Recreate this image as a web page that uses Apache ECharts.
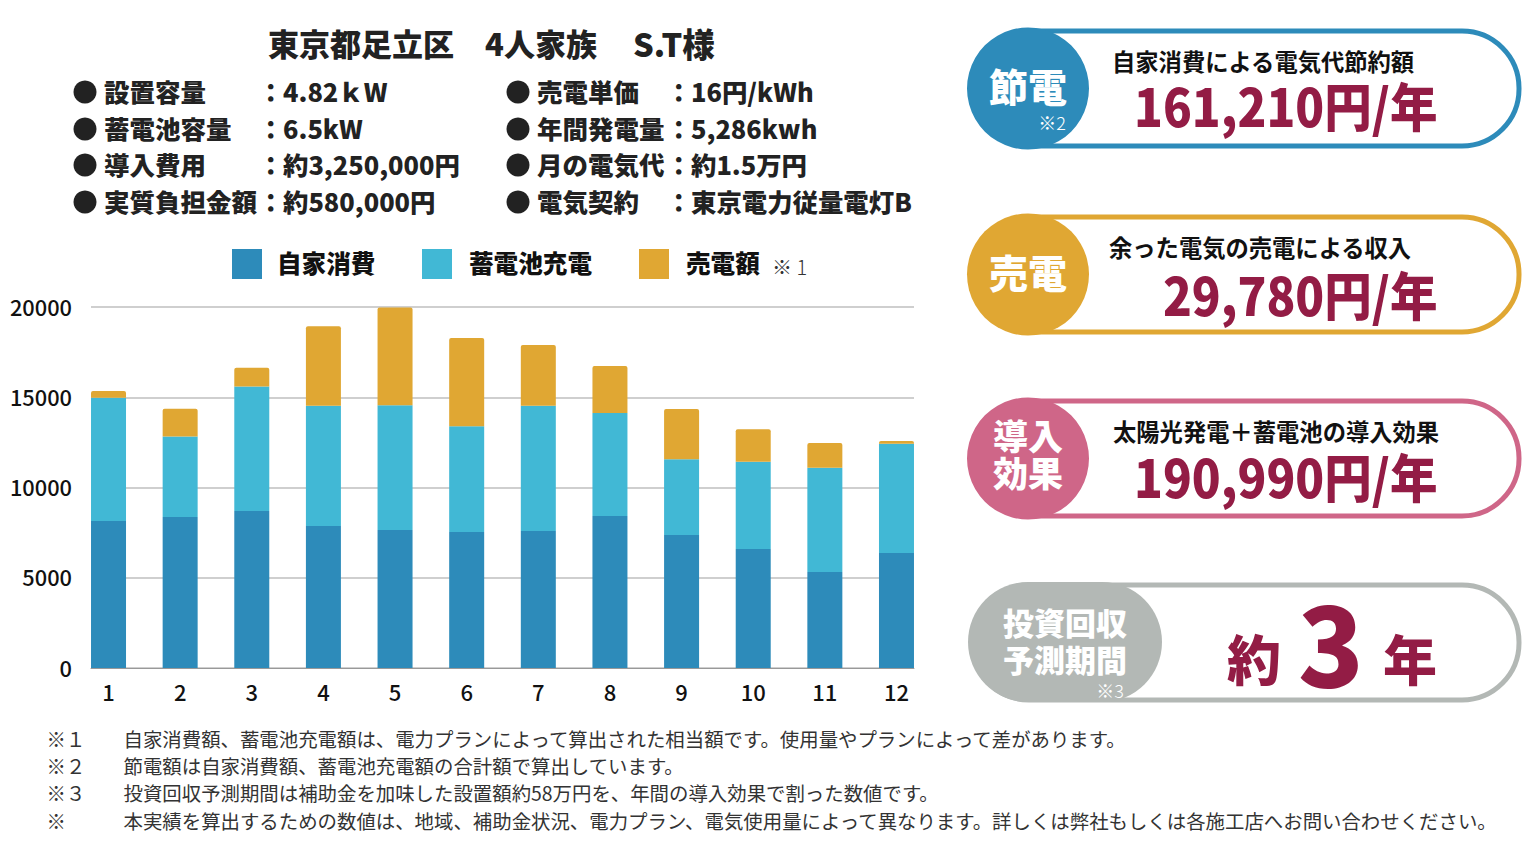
<!DOCTYPE html>
<html lang="ja"><head><meta charset="utf-8">
<style>html,body{margin:0;padding:0;background:#fff}#c{width:1530px;height:861px}</style>
<script src="https://cdn.jsdelivr.net/npm/echarts@6/dist/echarts.min.js"></script>
</head><body><div id="c"></div>
<script>
const months = ['1','2','3','4','5','6','7','8','9','10','11','12'];
const selfUse = [8140,8370,8700,7870,7650,7530,7590,8420,7370,6590,5320,6370];
const battery = [6830,4450,6890,6660,6910,5860,6940,5710,4190,4840,5780,6060];
const sold = [370,1540,1040,4400,5410,4890,3360,2600,2790,1800,1370,150];
const seriesNames = ['自家消費','蓄電池充電','売電額'];
const titleParts = ['東京都足立区','4人家族','S.T様'];
const infoLeft = [['設置容量','4.82ｋW'],['蓄電池容量','6.5kW'],['導入費用','約3,250,000円'],['実質負担金額','約580,000円']];
const infoRight = [['売電単価','16円/kWh'],['年間発電量','5,286kwh'],['月の電気代','約1.5万円'],['電気契約','東京電力従量電灯B']];
const panelHeads = [['節電'],['売電'],['導入','効果']];
const panelNotes = ['※2','',''];
const panelSubs = ['自家消費による電気代節約額','余った電気の売電による収入','太陽光発電＋蓄電池の導入効果'];
const panelVals = ['161,210円/年','29,780円/年','190,990円/年'];
const notes = [
 ['※１','自家消費額、蓄電池充電額は、電力プランによって算出された相当額です。使用量やプランによって差があります。'],
 ['※２','節電額は自家消費額、蓄電池充電額の合計額で算出しています。'],
 ['※３','投資回収予測期間は補助金を加味した設置額約58万円を、年間の導入効果で割った数値です。'],
 ['※','本実績を算出するための数値は、地域、補助金状況、電力プラン、電気使用量によって異なります。詳しくは弊社もしくは各施工店へお問い合わせください。']
];

const seriesColors = ['#2d8bba','#41b8d5','#e0a733'];
const panelColors = ['#2d8bba','#e0a733','#cf6688'];
const panelTops = [29,215,399];
const panelSubX = [1112,1109,1113];
const panelValY = [78,80.5,79];
const titleX = [268,485,633];
const titleSize = [31,31,32.5];
const infoY = [92,129,165,202];
const noteY = [741,768,795,823];
const legendX = [232,422,639];
const legendPad = [10,12,12];
const F = '"Noto Sans CJK JP","Noto Sans",sans-serif';
const WINE = '#931c45';
const g = [];
const T = (text,x,y,size,o={}) => g.push({type:'text',z:o.z||10,x,y:y-2.5,scaleY:o.sy||1,style:{text,fontFamily:F,fontSize:size,fontWeight:o.w||700,
  fill:o.fill||'#111',textAlign:o.a||'left',textVerticalAlign:'middle'}});

titleParts.forEach((p,i)=>T(p,titleX[i],45,titleSize[i],{w:900,fill:'#222'}));
[[infoLeft,73,104,262,283],[infoRight,506,537,670,691]].forEach(([rows,bx,lx,cx,vx])=>{
  rows.forEach((r,i)=>{
    const y=infoY[i];
    g.push({type:'circle',shape:{cx:bx+12,cy:y,r:11.5},style:{fill:'#222'}});
    T(r[0],lx,y+1,25.5,{fill:'#222',w:900});
    T('：',cx-4,y+1,25.5,{fill:'#222',w:900});
    T(r[1],vx,y+1,25.4,{fill:'#222',w:900});
  });
});
T('※ 1',772,269,20,{w:300,fill:'#333'});

panelTops.forEach((top,k)=>{
  const c=panelColors[k], h=panelHeads[k];
  g.push({type:'rect',shape:{x:972,y:top+2,width:547,height:115,r:57},style:{fill:'#fff',stroke:c,lineWidth:5}});
  g.push({type:'circle',z:5,shape:{cx:1028,cy:top+59.5,r:61},style:{fill:c}});
  if(h.length===1) T(h[0],1028,top+58,39,{a:'center',fill:'#fff',w:900});
  else h.forEach((t,i)=>T(t,1028,top+38+i*37,35,{a:'center',fill:'#fff',w:900}));
  if(panelNotes[k]) T(panelNotes[k],1052,top+95.5,18,{a:'center',w:300,fill:'#fff'});
  T(panelSubs[k],panelSubX[k],top+34,23.3,{w:700});
  T(panelVals[k],1437.5,top+panelValY[k]-0.5,47.5,{a:'right',fill:WINE,w:900,sy:1.1});
});
g.push({type:'rect',shape:{x:972,y:585,width:547,height:115,r:57},style:{fill:'#fff',stroke:'#b3b8b5',lineWidth:5}});
g.push({type:'rect',z:5,shape:{x:968,y:582,width:194,height:120,r:60},style:{fill:'#b3b8b5'}});
T('投資回収',1065,624,31,{a:'center',fill:'#fff',w:900});
T('予測期間',1065,661,31,{a:'center',fill:'#fff',w:900});
T('※3',1110,692.5,18,{a:'center',w:300,fill:'#fff'});
T('約',1254,660,54,{a:'center',fill:WINE,w:900});
T('3',1331,642,108,{a:'center',fill:WINE,w:900});
T('年',1410,660,54,{a:'center',fill:WINE,w:900});

notes.forEach((n,i)=>{
  T(n[0],46.5,noteY[i],19.42,{w:400,fill:'#333'});
  T(n[1],123.5,noteY[i],19.42,{w:400,fill:'#333'});
});

const chart = echarts.init(document.getElementById('c'),null,{renderer:'svg'});
const vals=[selfUse,battery,sold];
chart.setOption({
  animation:false,
  backgroundColor:'#fff',
  legend:seriesNames.map((n,i)=>({left:legendX[i],top:249,padding:0,itemWidth:30,itemHeight:30,icon:'rect',
    data:[n],selectedMode:false,formatter:'{t|{name}}',
    textStyle:{padding:[0,0,0,legendPad[i]],
      rich:{t:{fontFamily:F,fontSize:24.6,fontWeight:900,color:'#111',padding:[0,0,4,0]}}}})),
  grid:[{left:91,top:307,width:823,height:361},{left:72.7,top:307,width:859.6,height:361}],
  xAxis:[
    {gridIndex:0,type:'category',data:months,axisTick:{show:false},axisLabel:{show:false},axisLine:{lineStyle:{color:'#999',width:1}}},
    {gridIndex:1,type:'category',data:months,axisTick:{show:false},axisLine:{show:false},
     axisLabel:{fontFamily:F,fontSize:22,fontWeight:500,color:'#111',margin:12}}
  ],
  yAxis:[
    {gridIndex:0,type:'value',min:0,max:20000,interval:5000,axisLine:{show:false},axisTick:{show:false},
     splitLine:{lineStyle:{color:'#bfbfbf',width:1.5}},
     axisLabel:{margin:19,formatter:v=>'{t|'+v+'}',
       rich:{t:{fontFamily:F,fontSize:21.8,fontWeight:500,color:'#111',padding:[0,0,2,0]}}}},
    {gridIndex:1,type:'value',min:0,max:20000,interval:5000,show:false,splitLine:{show:false}}
  ],
  series:seriesNames.map((n,i)=>({name:n,type:'bar',stack:'t',xAxisIndex:1,yAxisIndex:1,data:vals[i],barWidth:35,
    itemStyle:{color:seriesColors[i],borderRadius:i===2?[2,2,0,0]:0}})),
  graphic:g
});
</script></body></html>
